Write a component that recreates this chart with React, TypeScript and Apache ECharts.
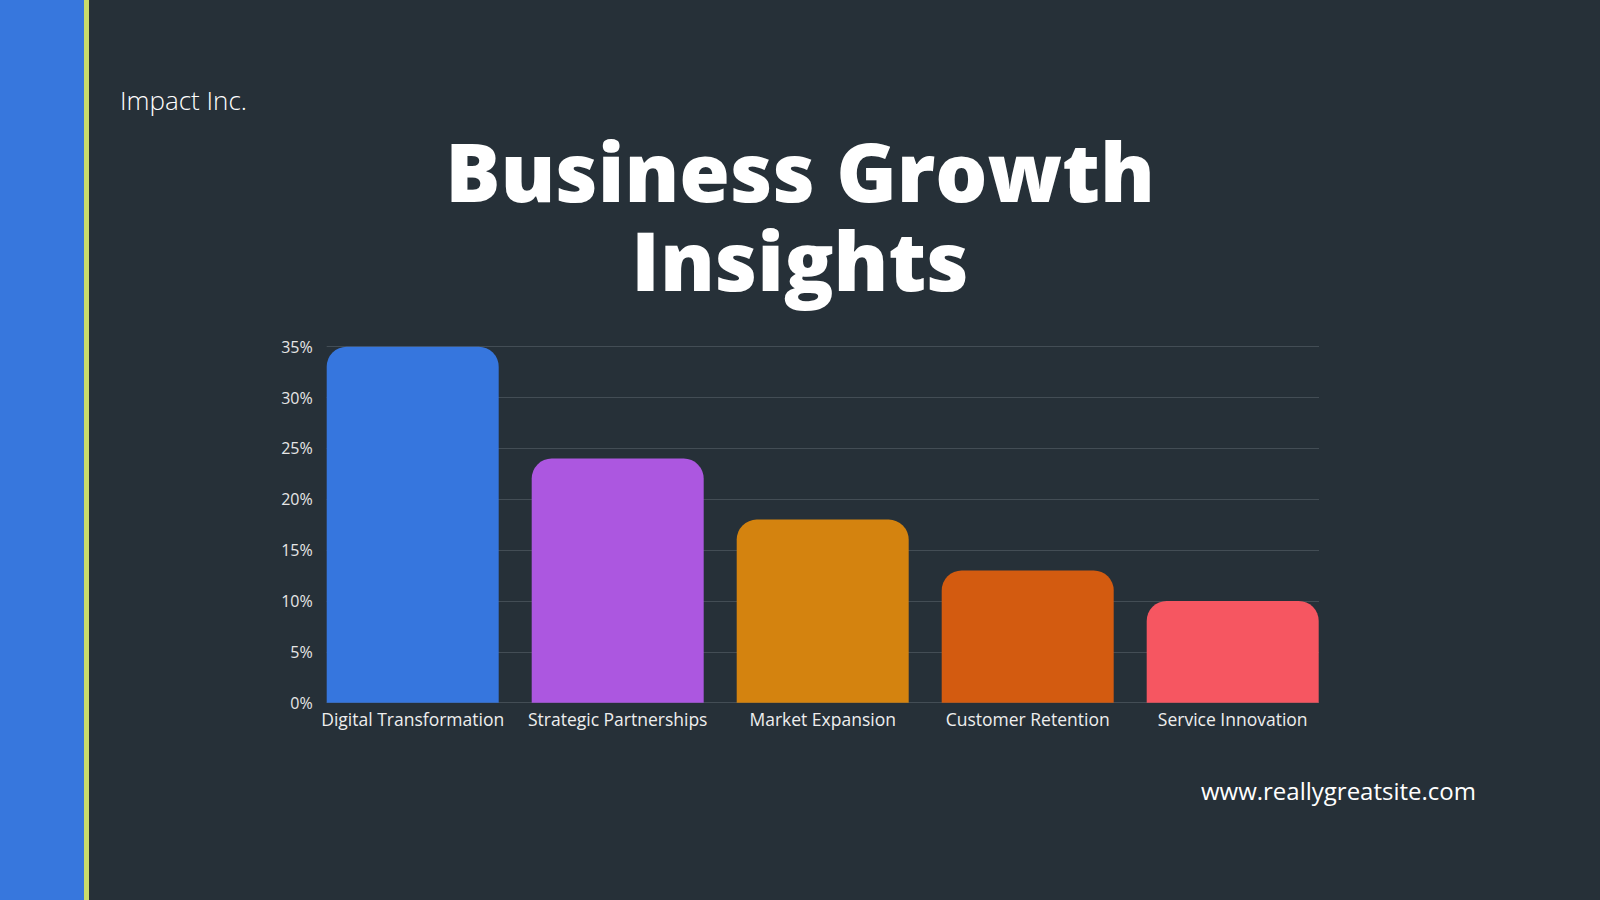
import React, { useEffect, useRef } from "react";
import * as echarts from "echarts";

const categories = [
  "Digital Transformation",
  "Strategic Partnerships",
  "Market Expansion",
  "Customer Retention",
  "Service Innovation",
];
const growthValues = [35, 24, 18, 13, 10];
const barColors = ["#3676de", "#ac57e0", "#d4830f", "#d35b10", "#f65661"];
const yTicks = [0, 5, 10, 15, 20, 25, 30, 35];

const FONT = "'Open Sans', Lato, 'DejaVu Sans', sans-serif";

export default function App() {
  const ref = useRef<HTMLDivElement>(null);

  useEffect(() => {
    if (!ref.current) return;
    document.body.style.margin = "0";
    const chart = echarts.init(ref.current, undefined, { renderer: "svg" });
    const top = 346.7;
    const bottom = 900 - 702.7;
    chart.setOption({
      animation: false,
      backgroundColor: "#263038",
      grid: [
        { left: 310.2, right: 1600 - 1335.2, top, bottom },
        { left: 326.7, right: 1600 - 1319, top, bottom },
      ],
      xAxis: [
        {
          type: "category",
          gridIndex: 0,
          data: categories,
          axisLine: { show: false },
          axisTick: { show: false },
          axisLabel: {
            color: "#eeeeee",
            fontFamily: FONT,
            fontSize: 17.5,
            margin: 7,
            interval: 0,
          },
        },
        { type: "category", gridIndex: 1, data: categories, show: false },
      ],
      yAxis: [
        {
          type: "value",
          gridIndex: 0,
          min: yTicks[0],
          max: yTicks[yTicks.length - 1],
          interval: 5,
          show: false,
        },
        {
          type: "value",
          gridIndex: 1,
          min: yTicks[0],
          max: yTicks[yTicks.length - 1],
          interval: 5,
          axisLine: { show: false },
          axisTick: { show: false },
          splitLine: { show: true, lineStyle: { color: "#434d55", width: 1 } },
          axisLabel: {
            color: "#e6e6e6",
            fontFamily: FONT,
            fontSize: 16,
            margin: 14,
            formatter: (v: number) => `${v}%`,
          },
        },
      ],
      series: [
        {
          type: "bar",
          xAxisIndex: 0,
          yAxisIndex: 0,
          barWidth: 172,
          data: growthValues.map((v, i) => ({
            value: v,
            itemStyle: { color: barColors[i], borderRadius: [20, 20, 0, 0] },
          })),
        },
      ],
      graphic: [
        { type: "rect", shape: { x: 0, y: 0, width: 84, height: 900 }, style: { fill: "#3777dd" } },
        { type: "rect", shape: { x: 84, y: 0, width: 5, height: 900 }, style: { fill: "#c9dd6b" } },
        {
          type: "text",
          x: 120,
          y: 100,
          style: {
            text: "Impact Inc.",
            fill: "#ffffff",
            font: `300 26px ${FONT}`,
            textAlign: "left",
            textVerticalAlign: "middle",
          },
        },
        {
          type: "text",
          x: 800,
          y: 214.5,
          style: {
            text: "Business Growth\nInsights",
            fill: "#ffffff",
            font: `800 82px ${FONT}`,
            lineHeight: 89,
            textAlign: "center",
            textVerticalAlign: "middle",
          },
        },
        {
          type: "text",
          x: 1476,
          y: 790,
          style: {
            text: "www.reallygreatsite.com",
            fill: "#ffffff",
            font: `400 24px ${FONT}`,
            textAlign: "right",
            textVerticalAlign: "middle",
          },
        },
      ],
    });
    return () => chart.dispose();
  }, []);

  return (
    <div
      ref={ref}
      style={{ position: "fixed", left: 0, top: 0, width: 1600, height: 900 }}
    />
  );
}
